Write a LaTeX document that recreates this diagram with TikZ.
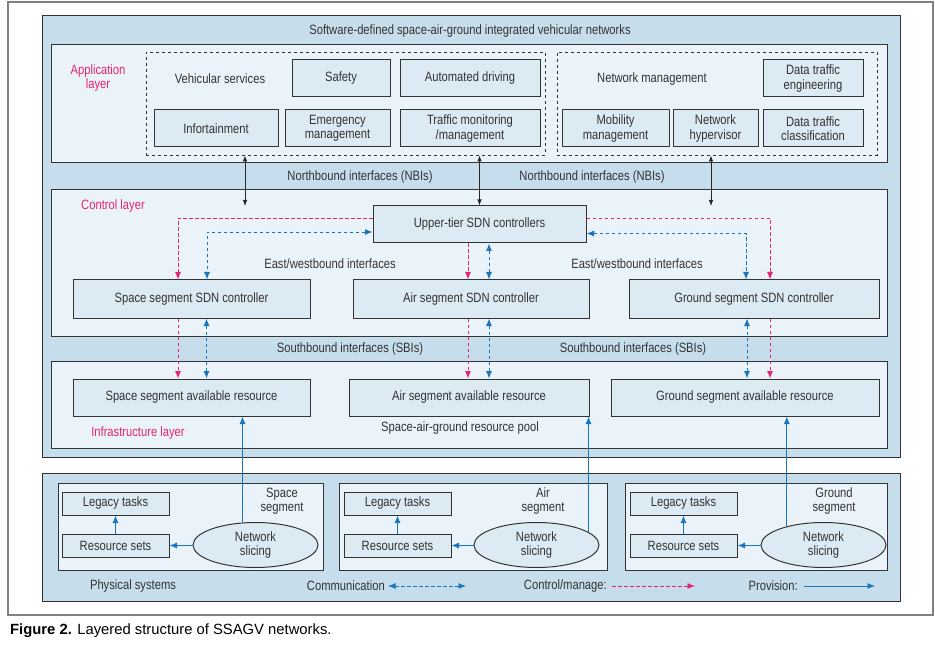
\documentclass[tikz,border=0pt]{standalone}
\usepackage{fontspec}
\setmainfont{Liberation Sans}[FakeStretch=0.83]
\newfontfamily\capfont{Liberation Sans}
\usetikzlibrary{arrows.meta,shapes.geometric}

\definecolor{skyfill}{HTML}{C6DDEC}
\definecolor{layerfill}{HTML}{EBF3FA}
\definecolor{boxfill}{HTML}{DCEAF4}
\definecolor{ctrlpink}{HTML}{E6246E}
\definecolor{provblue}{HTML}{1B75BB}
\definecolor{txt}{HTML}{333333}

\begin{document}
\begin{tikzpicture}[x=1pt, y=-1pt,
    font=\fontsize{13.5}{14.5}\selectfont,
    layer/.style={draw=black!80, line width=1pt, fill=layerfill},
    group/.style={draw=black!80, dashed, line width=0.8pt, inner sep=0pt},
    box/.style={draw=black!80, line width=1pt, fill=boxfill, text=txt, minimum height=37pt, inner sep=1pt, align=center},
    smallbox/.style={box, minimum width=107pt, minimum height=23pt},
    slice/.style={ellipse, draw=black!80, line width=1pt, fill=boxfill, text=txt, minimum width=125pt, minimum height=45pt, inner sep=0pt, align=center},
    lbl/.style={text=txt, align=center, inner sep=0pt},
    tag/.style={text=ctrlpink, align=center, inner sep=0pt},
    nbi/.style={{Latex[length=6pt,width=4.5pt]}-{Latex[length=6pt,width=4.5pt]}, line width=0.8pt, draw=black!85},
    ctrl/.style={-{Latex[length=7.5pt,width=6pt]}, dash pattern=on 3.5pt off 2.5pt, line width=0.9pt, draw=ctrlpink},
    comm/.style={{Latex[length=7.5pt,width=6pt]}-{Latex[length=7.5pt,width=6pt]}, dash pattern=on 3.5pt off 2.5pt, line width=0.9pt, draw=provblue},
    prov/.style={-{Latex[length=7.5pt,width=6pt]}, line width=0.9pt, draw=provblue}
]
\useasboundingbox (0,0) rectangle (935,647);

% Frames and layers
\draw[draw=black!50, line width=1.2pt, fill=white] (8,2) rectangle (933,615);
\draw[layer, fill=skyfill] (42,16) rectangle (900,457);
\draw[layer] (51,45) rectangle (887,163);    % Application
\draw[layer] (51,190) rectangle (887,336);   % Control
\draw[layer] (51,361) rectangle (887,448);   % Infrastructure
\draw[layer, fill=skyfill] (42,473) rectangle (900,601);
\draw[layer] (58,483) rectangle (323,570);   % Space
\draw[layer] (339,483) rectangle (607,570);  % Air
\draw[layer] (625,483) rectangle (887,570);  % Ground

\node[lbl] (title) at (470,31) {Software-defined space-air-ground integrated vehicular networks};

% Application layer
\node[tag] (applbl) at (98,78) {Application\\layer};
\node[group, minimum width=399pt, minimum height=103pt] (vehgrp) at (345.5,103.5) {};
\node[group, minimum width=320pt, minimum height=103pt] (netgrp) at (717,103.5) {};
\node[lbl] (vehlbl) at (220,79) {Vehicular services};
\node[box, minimum width=98pt] (safety) at (341,78.5) {Safety};
\node[box, minimum width=140pt] (autodrive) at (470,78.5) {Automated driving};
\node[box, minimum width=124pt] (infotain) at (216,128.5) {Infortainment};
\node[box, minimum width=105pt] (emergency) at (337.5,128.5) {Emergency\\management};
\node[box, minimum width=140pt] (traffic) at (470,128.5) {Traffic monitoring\\/management};
\node[lbl] (netlbl) at (652,79) {Network management};
\node[box, minimum width=100pt] (trafeng) at (813,78.5) {Data traffic\\engineering};
\node[box, minimum width=107pt] (mobility) at (615.5,128.5) {Mobility\\management};
\node[box, minimum width=85pt] (hypervisor) at (715.5,128.5) {Network\\hypervisor};
\node[box, minimum width=100pt] (trafcls) at (813,128.5) {Data traffic\\classification};

\node[lbl] (nbileftlbl) at (360,177) {Northbound interfaces (NBIs)};
\node[lbl] (nbirightlbl) at (592,177) {Northbound interfaces (NBIs)};

% Control layer
\node[tag] (ctrllbl) at (113,206) {Control layer};
\node[box, minimum width=213pt] (upper) at (479.5,224.5) {Upper-tier SDN controllers};
\node[box, minimum width=237pt, minimum height=38pt] (spacectrl) at (191.5,299) {Space segment SDN controller};
\node[box, minimum width=236pt, minimum height=38pt] (airctrl) at (471,299) {Air segment SDN controller};
\node[box, minimum width=250pt, minimum height=38pt] (groundctrl) at (754,299) {Ground segment SDN controller};
\node[lbl] (ewleftlbl) at (330,264) {East/westbound interfaces};
\node[lbl] (ewrightlbl) at (637,264) {East/westbound interfaces};

\node[lbl] (sbileftlbl) at (350,349) {Southbound interfaces (SBIs)};
\node[lbl] (sbirightlbl) at (633,349) {Southbound interfaces (SBIs)};

% Infrastructure layer
\node[box, minimum width=237pt] (spaceres) at (191.5,397.5) {Space segment available resource};
\node[box, minimum width=240pt] (airres) at (469,397.5) {Air segment available resource};
\node[box, minimum width=268pt] (groundres) at (745,397.5) {Ground segment available resource};
\node[tag] (infralbl) at (138,433) {Infrastructure layer};
\node[lbl] (poollbl) at (460,428) {Space-air-ground resource pool};

% Physical systems
\node[smallbox] (spacelegacy) at (115.5,503.5) {Legacy tasks};
\node[smallbox] (spacesets) at (115.5,545.5) {Resource sets};
\node[slice] (spaceslice) at (255.5,545) {Network\\slicing};
\node[lbl] (spacelbl) at (282,501) {Space\\segment};
\node[smallbox] (airlegacy) at (397.5,503.5) {Legacy tasks};
\node[smallbox] (airsets) at (397.5,545.5) {Resource sets};
\node[slice] (airslice) at (536.5,545) {Network\\slicing};
\node[lbl] (airlbl) at (543,501) {Air\\segment};
\node[smallbox] (groundlegacy) at (683.5,503.5) {Legacy tasks};
\node[smallbox] (groundsets) at (683.5,545.5) {Resource sets};
\node[slice] (groundslice) at (823.5,545) {Network\\slicing};
\node[lbl] (groundlbl) at (834,501) {Ground\\segment};

% Legend
\node[lbl] (physlbl) at (133,586) {Physical systems};
\node[lbl, anchor=east] (commlbl) at (385,586) {Communication};
\node[lbl, anchor=east] (ctrllgd) at (607,586) {Control/manage:};
\node[lbl, anchor=east] (provlgd) at (798,586) {Provision:};
\coordinate (commend) at (466,586);
\coordinate (ctrlend) at (695,586);
\coordinate (provend) at (875,586);

\node[anchor=west, inner sep=0pt, font=\capfont\fontsize{14.8}{16}\selectfont] (caption) at (10,631) {\textbf{Figure 2.} Layered structure of SSAGV networks.};

% Northbound
\coordinate (nbileft) at (245,206);
\coordinate (nbiright) at (711,206);
\draw[nbi] (vehgrp.south -| nbileft) -- (nbileft);
\draw[nbi] (vehgrp.south -| upper.north) -- (upper.north);
\draw[nbi] (netgrp.south -| nbiright) -- (nbiright);

% East/westbound
\draw[ctrl] ([yshift=6.5pt]upper.west) -| ([xshift=-13.5pt]spacectrl.north);
\draw[comm] ([yshift=-7.5pt]upper.west) -| ([xshift=15.5pt]spacectrl.north);
\draw[ctrl] ([yshift=6.5pt]upper.east) -| ([xshift=16pt]groundctrl.north);
\draw[comm] ([yshift=-9pt]upper.east) -| ([xshift=-8pt]groundctrl.north);
\draw[ctrl] ([xshift=-3pt]airctrl.north |- upper.south) -- ([xshift=-3pt]airctrl.north);
\draw[comm] ([xshift=18pt]airctrl.north |- upper.south) -- ([xshift=18pt]airctrl.north);

% Southbound
\draw[ctrl] ([xshift=-13.5pt]spacectrl.south) -- ([xshift=-13.5pt]spacectrl.south |- spaceres.north);
\draw[comm] ([xshift=15pt]spacectrl.south) -- ([xshift=15pt]spacectrl.south |- spaceres.north);
\draw[ctrl] ([xshift=-3pt]airctrl.south) -- ([xshift=-3pt]airctrl.south |- airres.north);
\draw[comm] ([xshift=18pt]airctrl.south) -- ([xshift=18pt]airctrl.south |- airres.north);
\draw[ctrl] ([xshift=16pt]groundctrl.south) -- ([xshift=16pt]groundctrl.south |- groundres.north);
\draw[comm] ([xshift=-7pt]groundctrl.south) -- ([xshift=-7pt]groundctrl.south |- groundres.north);

% Provision
\draw[prov] (spaceslice.120) -- (spaceslice.120 |- spaceres.south);
\draw[prov] (airslice.14) -- (airslice.14 |- airres.south);
\draw[prov] (groundslice.153) -- (groundslice.153 |- groundres.south);
\draw[prov] (spaceslice.west |- spacesets.east) -- (spacesets.east);
\draw[prov] (airslice.west |- airsets.east) -- (airsets.east);
\draw[prov] (groundslice.west |- groundsets.east) -- (groundsets.east);
\draw[prov] (spacesets) -- (spacelegacy);
\draw[prov] (airsets) -- (airlegacy);
\draw[prov] (groundsets) -- (groundlegacy);

% Legend arrows
\draw[comm] ([xshift=3pt]commlbl.east) -- (commend);
\draw[ctrl] ([xshift=5pt]ctrllgd.east) -- (ctrlend);
\draw[prov] ([xshift=6pt]provlgd.east) -- (provend);

\end{tikzpicture}
\end{document}
